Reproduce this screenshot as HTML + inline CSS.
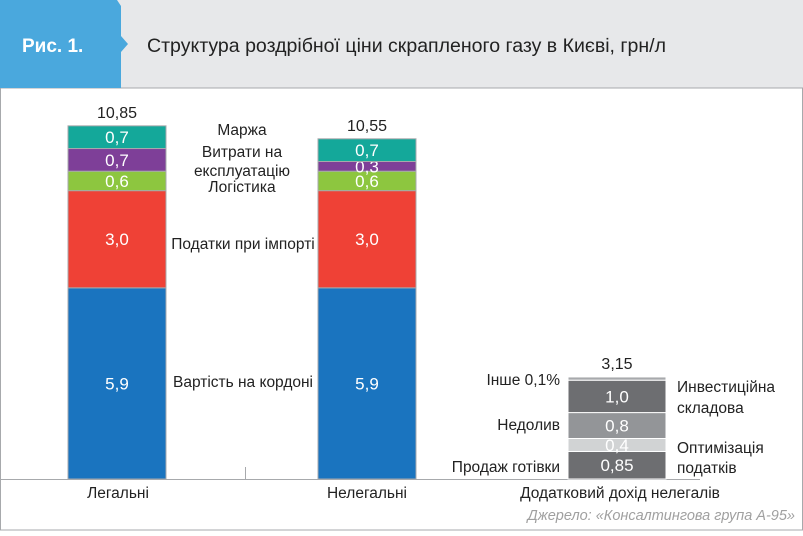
<!DOCTYPE html>
<html><head><meta charset="utf-8"><style>
body{margin:0;width:803px;height:531px;overflow:hidden;background:#fff;font-family:"Liberation Sans",sans-serif}
</style></head><body>
<svg width="803" height="531" xmlns="http://www.w3.org/2000/svg" font-family="Liberation Sans, sans-serif">
<rect x="0" y="0" width="803" height="88" fill="#e7e8ea"/>
<rect x="0.5" y="88" width="802" height="442" fill="#fff" stroke="#a7a9ac"/>
<polygon points="0,0 117,0 121,6 121,36 128,44 121,52 121,88 0,88" fill="#4aa8dd"/>
<text x="22" y="52" fill="#fff" font-size="19" font-weight="bold">Рис. 1.</text>
<text x="147" y="52" fill="#222" font-size="19.5" textLength="519" lengthAdjust="spacingAndGlyphs">Структура роздрібної ціни скрапленого газу в Києві, грн/л</text>
<line x1="0" y1="479.5" x2="700" y2="479.5" stroke="#a7a9ac"/>
<line x1="245.5" y1="467" x2="245.5" y2="479" stroke="#a7a9ac"/>
<g id="bars"></g>
<g font-size="15.5" fill="#222">
<text x="118" y="498" text-anchor="middle">Легальні</text>
<text x="367" y="498" text-anchor="middle">Нелегальні</text>
<text x="620" y="498" text-anchor="middle">Додатковий дохід нелегалів</text>
<text x="242" y="135" text-anchor="middle">Маржа</text>
<text x="242" y="157" text-anchor="middle">Витрати на</text>
<text x="242" y="176" text-anchor="middle">експлуатацію</text>
<text x="242" y="192" text-anchor="middle">Логістика</text>
<text x="243" y="249" text-anchor="middle">Податки при імпорті</text>
<text x="243" y="387" text-anchor="middle">Вартість на кордоні</text>
<text x="560" y="385" text-anchor="end">Інше 0,1%</text>
<text x="560" y="430" text-anchor="end">Недолив</text>
<text x="560" y="472" text-anchor="end">Продаж готівки</text>
<text x="677" y="392">Инвестиційна</text>
<text x="677" y="413">складова</text>
<text x="677" y="453">Оптимізація</text>
<text x="677" y="473">податків</text>
</g>
<text x="795" y="520" text-anchor="end" font-size="14.5" font-style="italic" fill="#a0a0a0">Джерело: «Консалтингова група А-95»</text>
</svg>
<script>
const legalValues=[5.9,3.0,0.6,0.7,0.7];
const illegalValues=[5.9,3.0,0.6,0.3,0.7];
const extraValues=[0.85,0.4,0.8,1.0,0.1];
const legalLabels=["5,9","3,0","0,6","0,7","0,7"];
const illegalLabels=["5,9","3,0","0,6","0,3","0,7"];
const extraLabels=["0,85","0,4","0,8","1,0",""];
const totals=["10,85","10,55","3,15"];
const colorsMain=["#1a74bf","#ef4136","#8dc63f","#7e3f98","#14a89a"];
const colorsExtra=["#6d6e71","#d1d3d4","#939598","#6d6e71","#a7a9ac"];
const base=479, scale=32.4;
const y=v=>base-v*scale;
const g=document.getElementById('bars');
const ns="http://www.w3.org/2000/svg";
function bar(vals,labs,cols,x,total,name,sep){
  let cum=0;
  vals.forEach((v,i)=>{
    const r=document.createElementNS(ns,'rect');
    
    
    r.setAttribute('x',x);r.setAttribute('y',y(cum+v));
    r.setAttribute('width',98);r.setAttribute('height',v*scale);
    r.setAttribute('fill',cols[i]);r.setAttribute('stroke',sep);r.setAttribute('stroke-width',1);
    g.appendChild(r);
    if(labs[i]){
      const t=document.createElementNS(ns,'text');
      
      
      t.setAttribute('x',x+49);t.setAttribute('y',y(cum+v/2)+6);
      t.setAttribute('text-anchor','middle');t.setAttribute('font-size','17');t.setAttribute('fill','#fff');
      t.textContent=labs[i];g.appendChild(t);
    }
    cum+=v;
  });
  const t=document.createElementNS(ns,'text');
  
  
  t.setAttribute('x',x+49);t.setAttribute('y',y(cum)-8);
  t.setAttribute('text-anchor','middle');t.setAttribute('font-size','16');t.setAttribute('fill','#222');
  t.textContent=total;g.appendChild(t);
}
bar(legalValues,legalLabels,colorsMain,68,totals[0],'legal-bar','#a7a9ac');
bar(illegalValues,illegalLabels,colorsMain,318,totals[1],'illegal-bar','#a7a9ac');
bar(extraValues,extraLabels,colorsExtra,568,totals[2],'extra-bar','#fff');
</script>
</body></html>
